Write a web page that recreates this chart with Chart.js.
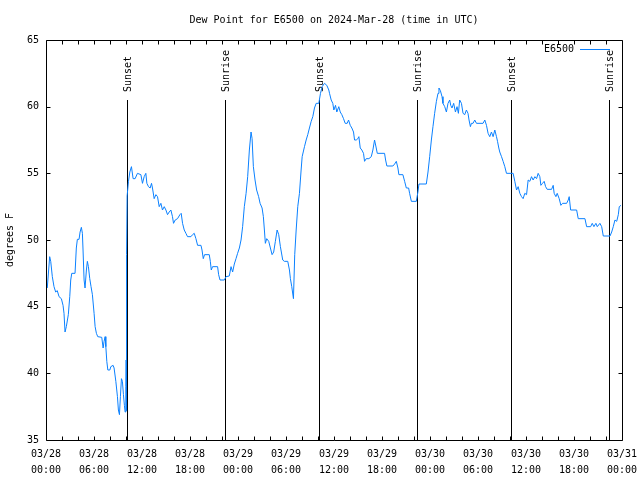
<!DOCTYPE html>
<html>
<head>
<meta charset="utf-8">
<script src="https://cdn.jsdelivr.net/npm/chart.js@4/dist/chart.umd.min.js"></script>
<style>
html,body{margin:0;padding:0;background:#fff;}
#wrap{width:640px;height:480px;}
</style>
</head>
<body>
<div id="wrap"><canvas id="c" width="640" height="480"></canvas></div>
<script>
// Hours since 2024-03-28 00:00 UTC
const hours = [
0.16,0.46,0.59,0.79,1.00,1.21,1.41,1.63,1.92,2.13,2.25,2.38,2.54,2.79,2.97,3.09,3.22,3.63,3.79,3.92,
4.13,4.26,4.42,4.55,4.63,4.76,4.88,5.05,5.17,5.30,5.47,5.63,5.80,6.01,6.14,6.30,6.47,6.97,7.14,7.26,
7.39,7.48,7.60,7.73,7.98,8.10,8.39,8.51,8.73,8.93,9.05,9.18,9.30,9.43,9.55,9.68,9.80,9.89,9.98,10.02,
10.05,10.09,10.14,10.31,10.48,10.68,10.89,11.14,11.43,11.86,12.06,12.27,12.48,12.61,12.81,13.02,13.19,13.31,13.52,13.74,
13.94,14.15,14.36,14.56,14.78,14.99,15.19,15.40,15.61,15.81,15.94,16.15,16.44,16.74,16.90,17.07,17.28,17.49,17.69,18.12,
18.32,18.53,18.74,18.95,19.37,19.50,19.66,19.82,20.41,20.54,20.66,20.82,21.45,21.58,21.75,22.29,22.50,22.91,23.13,23.33,
23.54,23.75,23.95,24.17,24.38,24.58,24.79,25.01,25.21,25.42,25.63,25.76,25.92,26.13,26.33,26.58,26.76,27.01,27.17,27.30,
27.42,27.59,27.84,28.05,28.26,28.46,28.67,28.89,29.09,29.30,29.59,29.80,30.22,30.43,30.55,30.72,30.93,31.09,31.27,31.47,
31.68,31.89,32.02,32.31,32.52,32.72,32.93,33.15,33.35,33.56,33.77,34.10,34.31,34.52,34.81,35.10,35.35,35.44,35.65,35.85,
35.98,36.19,36.35,36.60,36.78,36.98,37.19,37.40,37.65,37.82,38.03,38.23,38.44,38.57,38.78,38.98,39.11,39.28,39.48,39.69,
39.82,40.03,40.36,40.66,40.86,41.07,41.28,41.41,42.32,42.45,42.61,43.36,43.58,43.79,43.99,44.11,44.61,44.83,45.04,45.33,
45.45,45.67,46.29,46.49,46.62,47.54,47.75,47.96,48.17,48.37,48.58,48.80,49.00,49.12,49.30,49.50,49.62,49.84,50.05,50.25,
50.46,50.59,50.75,50.96,51.18,51.38,51.55,51.71,51.93,52.13,52.34,52.55,52.75,52.88,53.05,53.18,53.38,53.59,53.81,54.63,
54.85,55.06,55.26,55.47,55.68,55.89,56.10,56.31,56.44,56.60,56.72,56.94,57.14,57.35,57.56,58.39,58.60,58.82,59.02,59.23,
59.44,59.64,59.85,60.07,60.27,60.48,60.69,60.89,61.11,61.32,61.52,61.73,61.86,62.07,62.27,62.45,62.65,63.20,63.40,63.52,
63.74,63.90,64.15,64.36,64.57,65.08,65.28,65.40,65.58,66.33,66.53,67.37,67.58,68.08,68.28,68.49,68.74,68.91,69.24,69.46,
69.66,70.50,70.71,70.91,71.12,71.34,71.54,71.66,71.87
];
// Dew point, degrees F
const dewPoint = [
46.4,48.75,48.4,47.25,46.5,46.1,46.2,45.75,45.6,45.1,44.5,43.1,43.5,44.4,45.75,47.0,47.5,47.5,49.4,50.05,
50.05,50.6,50.95,50.5,49.25,47.0,46.4,47.75,48.4,48.0,47.1,46.5,45.9,44.5,43.5,43.0,42.75,42.7,41.9,42.4,
42.75,42.0,40.9,40.25,40.25,40.5,40.6,40.4,39.4,38.25,37.25,36.9,38.25,39.6,39.4,38.4,37.6,37.1,39.0,41.0,
37.2,48.9,53.3,54.4,55.1,55.5,54.6,54.6,55.0,54.9,54.25,54.75,55.0,54.25,54.0,53.9,54.25,53.9,53.1,53.4,
53.25,52.5,52.75,52.25,52.5,52.25,51.9,52.1,52.25,51.75,51.25,51.5,51.6,51.9,52.0,51.25,50.75,50.5,50.25,50.25,
50.4,50.5,50.1,49.6,49.6,49.25,48.6,48.9,48.9,48.4,47.75,48.0,48.0,47.4,47.0,47.0,47.25,47.3,48.0,47.6,
48.2,48.6,49.0,49.4,50.0,51.0,52.5,53.5,54.75,56.75,58.1,57.6,55.5,54.5,53.75,53.25,52.75,52.4,51.75,50.75,
49.75,50.1,49.9,49.4,48.9,49.1,49.9,50.75,50.4,49.5,48.5,48.4,48.4,47.75,47.1,46.5,45.6,48.9,50.75,52.5,
53.5,55.25,56.25,57.0,57.5,57.9,58.4,58.9,59.25,59.9,60.25,60.25,61.0,61.5,61.75,61.6,61.25,61.0,60.5,60.25,
59.75,60.1,59.6,60.0,59.6,59.4,59.1,58.75,58.75,59.0,58.6,58.4,58.1,57.5,57.5,57.6,57.75,56.9,56.75,56.5,
55.9,56.1,56.1,56.25,56.75,57.5,56.9,56.5,56.5,56.0,55.55,55.55,55.7,55.9,55.4,54.9,54.9,54.4,53.9,53.9,
53.5,52.9,52.9,53.6,54.2,54.2,55.1,56.25,57.5,58.5,59.5,60.4,61.0,61.4,61.2,60.75,60.25,60.0,59.6,60.25,
60.5,60.1,59.9,60.25,59.6,60.0,59.5,60.5,60.25,59.5,59.4,59.75,59.5,59.0,58.5,58.75,58.75,59.0,58.75,58.75,
59.0,58.6,58.0,57.75,58.1,57.75,58.25,57.75,57.4,56.9,56.6,56.25,55.9,55.5,55.0,55.0,54.4,53.75,54.0,53.5,
53.25,53.1,53.5,53.4,54.5,54.4,54.75,54.5,54.75,54.6,55.0,54.75,54.1,54.25,54.4,54.0,53.8,53.8,54.1,53.5,
53.25,53.5,53.1,52.6,52.75,52.75,53.0,53.25,52.25,52.25,51.6,51.6,51.0,51.0,51.25,51.0,51.25,51.0,51.25,51.0,
50.3,50.3,50.6,51.0,51.5,51.4,51.9,52.5,52.6
];
// Sunset / sunrise markers (hours since 03/28 00:00 UTC)
const eventHours = [10.07, 22.42, 34.08, 46.38, 58.08, 70.40];
const eventNames = ["Sunset", "Sunrise", "Sunset", "Sunrise", "Sunset", "Sunrise"];
const dateLabels = ["03/28", "03/29", "03/30", "03/31"];
const yTicks = [35, 40, 45, 50, 55, 60, 65];
const seriesName = "E6500";
const titleText = "Dew Point for E6500 on 2024-Mar-28 (time in UTC)";
const yAxisTitle = "degrees F";

const FONT = "10px 'DejaVu Sans Mono', 'Liberation Mono', monospace";
const LINE_COLOR = "#0a80ff";

function pad2(n){ return (n < 10 ? "0" : "") + n; }

const decor = {
  id: "decor",
  beforeDatasetsDraw(chart) {
    const ctx = chart.ctx, a = chart.chartArea, xs = chart.scales.x;
    ctx.save();
    ctx.strokeStyle = "#000";
    ctx.lineWidth = 1;
    ctx.fillStyle = "#000";
    ctx.font = FONT;
    eventHours.forEach((h, i) => {
      const px = Math.round(xs.getPixelForValue(h)) + 0.5;
      ctx.beginPath();
      ctx.moveTo(px, a.top + 60);
      ctx.lineTo(px, a.bottom);
      ctx.stroke();
      ctx.save();
      ctx.translate(px + 1, a.top + 52);
      ctx.rotate(-Math.PI / 2);
      ctx.textAlign = "left";
      ctx.textBaseline = "middle";
      ctx.fillText(eventNames[i], 0, 0);
      ctx.restore();
    });
    ctx.restore();
  },
  afterDatasetsDraw(chart) {
    const ctx = chart.ctx, a = chart.chartArea, xs = chart.scales.x, ys = chart.scales.y;
    ctx.save();
    ctx.strokeStyle = "#000";
    ctx.lineWidth = 1;
    const L = Math.round(a.left) + 0.5, R = Math.round(a.right) + 0.5;
    const T = Math.round(a.top) + 0.5, B = Math.round(a.bottom) + 0.5;
    ctx.beginPath();
    ctx.rect(L, T, R - L, B - T);
    // x ticks every 2 hours, inward top & bottom
    for (let h = 2; h < 72; h += 2) {
      const px = Math.round(xs.getPixelForValue(h)) + 0.5;
      ctx.moveTo(px, B); ctx.lineTo(px, B - 4);
      ctx.moveTo(px, T); ctx.lineTo(px, T + 4);
    }
    // y ticks inward left & right
    yTicks.forEach(v => {
      const py = Math.round(ys.getPixelForValue(v)) + 0.5;
      ctx.moveTo(L, py); ctx.lineTo(L + 4, py);
      ctx.moveTo(R, py); ctx.lineTo(R - 4, py);
    });
    ctx.stroke();

    // legend
    ctx.font = FONT;
    ctx.fillStyle = "#000";
    ctx.textAlign = "right";
    ctx.textBaseline = "middle";
    ctx.fillText(chart.data.datasets[0].label, a.right - 48, a.top + 9);
    ctx.strokeStyle = LINE_COLOR;
    ctx.beginPath();
    ctx.moveTo(a.right - 42, a.top + 9.5);
    ctx.lineTo(a.right - 12, a.top + 9.5);
    ctx.stroke();

    // title
    ctx.fillStyle = "#000";
    ctx.textAlign = "center";
    ctx.fillText(titleText, (a.left + a.right) / 2, 20);

    // y axis title
    ctx.save();
    ctx.translate(10, (a.top + a.bottom) / 2);
    ctx.rotate(-Math.PI / 2);
    ctx.textAlign = "center";
    ctx.textBaseline = "middle";
    ctx.fillText(yAxisTitle, 0, 0);
    ctx.restore();
    ctx.restore();
  }
};

new Chart(document.getElementById("c"), {
  type: "line",
  data: {
    datasets: [{
      label: seriesName,
      data: hours.map((h, i) => ({ x: h, y: dewPoint[i] })),
      borderColor: LINE_COLOR,
      backgroundColor: LINE_COLOR,
      borderWidth: 1,
      pointRadius: 0,
      tension: 0,
      fill: false
    }]
  },
  options: {
    responsive: false,
    devicePixelRatio: 1,
    animation: false,
    layout: { padding: { left: 0, right: 18, top: 40, bottom: 0 } },
    plugins: { legend: { display: false }, title: { display: false }, tooltip: { enabled: false } },
    scales: {
      x: {
        type: "linear",
        min: 0, max: 72,
        grid: { display: false, drawTicks: false },
        border: { display: false },
        afterFit(s) { s.height = 40; s.paddingLeft = 0; s.paddingRight = 0; },
        ticks: {
          stepSize: 6,
          autoSkip: false,
          maxRotation: 0,
          padding: 6,
          color: "#000",
          font: { family: "'DejaVu Sans Mono', 'Liberation Mono', monospace", size: 10, lineHeight: 1.6 },
          callback(v) {
            const d = Math.floor(v / 24);
            const hh = v - d * 24;
            return [dateLabels[d], pad2(hh) + ":00"];
          }
        }
      },
      y: {
        min: 35, max: 65,
        grid: { display: false, drawTicks: false },
        border: { display: false },
        afterFit(s) { s.width = 46; s.paddingTop = 0; s.paddingBottom = 0; },
        afterBuildTicks(s) { s.ticks = yTicks.map(v => ({ value: v })); },
        ticks: {
          padding: 7,
          color: "#000",
          font: { family: "'DejaVu Sans Mono', 'Liberation Mono', monospace", size: 10 }
        }
      }
    }
  },
  plugins: [decor]
});
</script>
</body>
</html>
